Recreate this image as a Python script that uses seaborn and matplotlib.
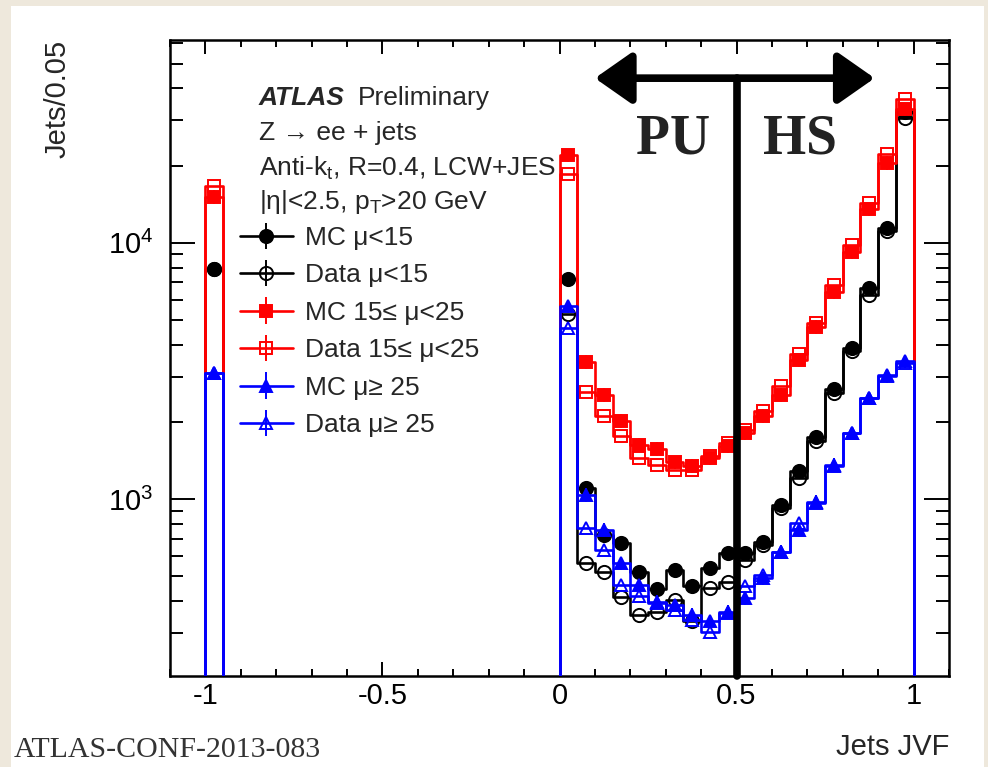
import numpy as np
import matplotlib
matplotlib.use("Agg")
import matplotlib.pyplot as plt
import seaborn as sns
from matplotlib.patches import Rectangle
from matplotlib.ticker import LogLocator, NullFormatter, MultipleLocator, FuncFormatter

sns.set_style("ticks")
plt.rcParams['font.family'] = ['Liberation Sans', 'DejaVu Sans']
plt.rcParams['mathtext.fontset'] = 'custom'
plt.rcParams['mathtext.rm'] = 'Liberation Sans'
plt.rcParams['mathtext.it'] = 'Liberation Sans:italic'
plt.rcParams['mathtext.bf'] = 'Liberation Sans:bold'
plt.rcParams['axes.unicode_minus'] = False

# %% data
# one bin at JVF = -1 (jets with no tracks) and 20 bins of 0.05 from 0 to 1
neg_edges = np.array([-1.0, -0.95])
pos_edges = np.linspace(0.0, 1.0, 21)

# jets per 0.05, bin at -1
black_mc_neg, black_data_neg = 7930, 7900
red_mc_neg, red_data_neg = 15100, 16600
blue_mc_neg, blue_data_neg = 3100, 3100

# jets per 0.05, bins 0 .. 1
black_mc = [7230, 1104, 725, 673, 517, 445, 530, 456, 538, 618,
            615, 677, 950, 1290, 1740, 2690, 3890, 6670, 11450, 32500]
black_data = [5250, 565, 517, 416, 353, 361, 402, 333, 449, 476,
              579, 663, 922, 1208, 1678, 2595, 3773, 6280, 11100, 30800]
red_mc = [21900, 3430, 2550, 2020, 1630, 1570, 1390, 1350, 1445, 1605,
          1810, 2115, 2550, 3475, 4700, 6435, 9180, 13500, 20500, 33200]
red_data = [18500, 2620, 2100, 1757, 1445, 1360, 1302, 1300, 1466, 1655,
            1865, 2198, 2755, 3665, 4870, 6870, 9840, 14300, 22100, 36300]
blue_mc = [5650, 1040, 759, 562, 462, 398, 386, 353, 333, 364,
           410, 491, 624, 759, 978, 1360, 1810, 2478, 3013, 3447]
blue_data = [4655, 771, 634, 462, 417, 393, 370, 338, 304, 360,
             456, 506, 624, 806, 964, 1340, 1810, 2478, 3040, 3400]

labels = ["MC \u03bc<15", "Data \u03bc<15", "MC 15\u2264 \u03bc<25",
          "Data 15\u2264 \u03bc<25", "MC \u03bc\u2265 25", "Data \u03bc\u2265 25"]

REL_ERR = 0.06   # small stat. error bars on the MC points
BASE = 1.0       # histogram outlines drop below the y range

series = [
    (labels[0], black_mc_neg, black_mc, 'black', 'o', True, 9.5),
    (labels[1], black_data_neg, black_data, 'black', 'o', False, 9.5),
    (labels[2], red_mc_neg, red_mc, 'red', 's', True, 8.5),
    (labels[3], red_data_neg, red_data, 'red', 's', False, 8.5),
    (labels[4], blue_mc_neg, blue_mc, 'blue', '^', True, 9),
    (labels[5], blue_data_neg, blue_data, 'blue', '^', False, 9),
]

fig = plt.figure(figsize=(9.88, 7.67), dpi=100, facecolor='#eee8dc')
fig.add_artist(Rectangle((11 / 988, 0), (984 - 11) / 988, (767 - 6) / 767,
                         transform=fig.transFigure, facecolor='white',
                         edgecolor='none', zorder=-5))
ax = fig.add_axes([170 / 988, 1 - 676 / 767, (949 - 170) / 988, (676 - 40) / 767])
ax.set_facecolor('white')
ax.set_yscale('log')


def draw_steps(edges, vals, color, z):
    xs = np.repeat(edges, 2)
    ys = np.concatenate([[BASE], np.repeat(vals, 2), [BASE]])
    sns.lineplot(x=xs, y=ys, sort=False, estimator=None, color=color,
                 lw=1.9, ax=ax, zorder=z)


handles = []
for i, (lab, vneg, vpos, col, mk, filled, ms) in enumerate(series):
    z = 2 + i // 2
    draw_steps(neg_edges, [vneg], col, z)
    draw_steps(pos_edges, vpos, col, z)
    centers = np.concatenate([[neg_edges.mean()], (pos_edges[:-1] + pos_edges[1:]) / 2])
    vals = np.array([vneg] + list(vpos), dtype=float)
    face = col if filled else 'none'
    err = vals * REL_ERR if filled else None
    ax.errorbar(centers, vals, yerr=err, fmt=mk, ms=ms, mfc=face,
                mec=col, mew=1.4, ecolor=col, elinewidth=1.4, capsize=0,
                zorder=z + 0.5)
    h = ax.errorbar([np.nan], [np.nan], yerr=[np.nan], fmt='-' + mk, ms=ms,
                    mfc=face, mec=col, mew=1.4, color=col, lw=1.9,
                    elinewidth=1.4, capsize=0)
    handles.append((h, lab))

ax.set_xlim(-1.1, 1.1)
ax.set_ylim(204, 61800)
ax.xaxis.set_major_locator(MultipleLocator(0.5))
ax.xaxis.set_minor_locator(MultipleLocator(0.1))
ax.xaxis.set_major_formatter(FuncFormatter(lambda v, p: f"{v:g}"))
ax.yaxis.set_major_locator(LogLocator(10))
ax.yaxis.set_minor_locator(LogLocator(10, subs=np.arange(2, 10)))
ax.yaxis.set_minor_formatter(NullFormatter())
ax.tick_params(which='both', direction='in', top=True, right=True,
               width=1.4, color='black', labelcolor='black')
ax.tick_params(axis='x', which='major', length=10, labelsize=21, pad=4)
ax.tick_params(axis='x', which='minor', length=5)
ax.tick_params(axis='y', which='major', length=18, labelsize=21, pad=12)
ax.tick_params(axis='y', which='minor', length=9.5)
for sp in ax.spines.values():
    sp.set_linewidth(1.8)
    sp.set_color('black')

ax.set_ylabel("Jets/0.05", fontsize=21, loc='top')
ax.yaxis.set_label_coords(-0.126, 1.0)
ax.set_xlabel("Jets JVF", fontsize=21, loc='right')
ax.xaxis.set_label_coords(1.0, -0.09)

leg = ax.legend([h for h, _ in handles], [l for _, l in handles],
                loc='upper left', bbox_to_anchor=(240 / 988, 1 - 226 / 767),
                bbox_transform=fig.transFigure, frameon=False, fontsize=19,
                borderpad=0, borderaxespad=0, handlelength=2.0,
                handletextpad=0.45, labelspacing=0.51, numpoints=1)

# header text
fig.text(259 / 988, 1 - 98 / 767, "ATLAS", fontsize=19, fontweight='bold',
         fontstyle='italic', va='center')
fig.text(358 / 988, 1 - 98 / 767, "Preliminary", fontsize=19, va='center')
fig.text(259 / 988, 1 - 133 / 767, "Z \u2192 ee + jets", fontsize=19, va='center')
fig.text(259 / 988, 1 - 168 / 767, r"Anti-k$_{\mathregular{t}}$, R=0.4, LCW+JES",
         fontsize=19, va='center')
fig.text(259 / 988, 1 - 202 / 767, "|\u03b7|<2.5, p$_{\\mathregular{T}}$>20 GeV",
         fontsize=19, va='center')

# hand-drawn PU / HS annotation
ax.annotate("", xy=(0.10, 0.94), xytext=(0.89, 0.94),
            xycoords=('data', 'axes fraction'), textcoords=('data', 'axes fraction'),
            arrowprops=dict(arrowstyle="<|-|>,head_length=0.5,head_width=0.35",
                            lw=5.5, color='black', mutation_scale=45,
                            shrinkA=0, shrinkB=0),
            annotation_clip=False, zorder=8)
ax.plot([0.5, 0.5], [0.0, 0.94], transform=ax.get_xaxis_transform(),
        color='black', lw=5.5, solid_capstyle='round', zorder=8, clip_on=False)
fig.text(673 / 988, 1 - 139 / 767, "PU", family='Liberation Serif', fontsize=40,
         fontweight='bold', color='#222222', ha='center', va='center')
fig.text(800 / 988, 1 - 139 / 767, "HS", family='Liberation Serif', fontsize=40,
         fontweight='bold', color='#222222', ha='center', va='center')

fig.text(14 / 988, 1 - 757 / 767, "ATLAS-CONF-2013-083", family='Liberation Serif',
         fontsize=21.5, color='#333333', va='baseline')

fig.savefig("out.png", dpi=100, facecolor=fig.get_facecolor())
